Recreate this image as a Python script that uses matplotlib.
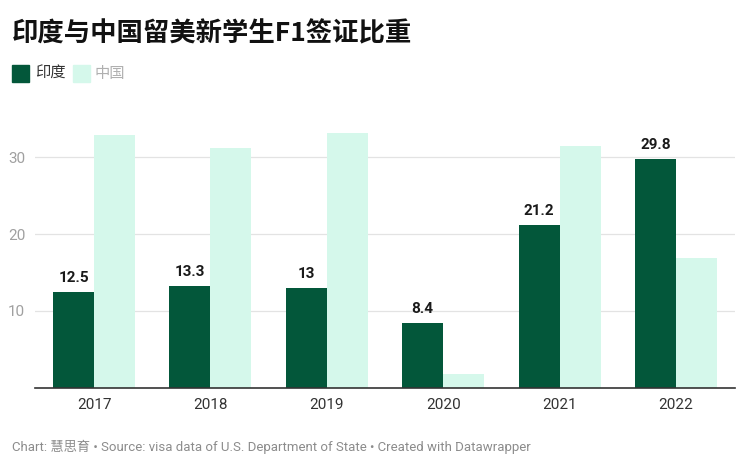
import matplotlib.pyplot as plt
import numpy as np
from matplotlib.patches import Rectangle

plt.rcParams['font.family'] = ['Roboto', 'Noto Sans CJK SC', 'DejaVu Sans']

# data
years = ['2017', '2018', '2019', '2020', '2021', '2022']
india = [12.5, 13.3, 13, 8.4, 21.2, 29.8]
china = [32.9, 31.2, 33.1, 1.8, 31.4, 16.9]
yticks = [10, 20, 30]

dark = '#03573a'
light = '#d5f8eb'

fig = plt.figure(figsize=(7.46, 4.67), dpi=100)
W, H = 746, 467
ax = fig.add_axes([35 / W, (H - 388) / H, 700 / W, 258 / H])

x = np.arange(len(years))
w = 0.352
ax.bar(x - w / 2, india, w, color=dark, zorder=3)
ax.bar(x + w / 2, china, w, color=light, zorder=2)

for xi, v in zip(x, india):
    ax.annotate(f'{v:g}', (xi - w / 2, v), xytext=(0, 5), textcoords='offset points',
                ha='center', va='bottom', fontsize=11, fontweight='bold', color='#1a1a1a')

ax.set_xlim(-0.507, 5.507)
ax.set_ylim(0, 258 / 7.7)
ax.set_yticks(yticks)
ax.set_yticklabels([str(t) for t in yticks])
ax.grid(axis='y', color='#e3e3e3', linewidth=0.9, zorder=0)
ax.set_xticks(x)
ax.set_xticklabels(years)
ax.tick_params(axis='x', length=0, pad=7, labelsize=11, labelcolor='#333333')
ax.tick_params(axis='y', length=0, pad=7, labelsize=11, labelcolor='#a0a0a0')
for s in ['top', 'right', 'left']:
    ax.spines[s].set_visible(False)
ax.spines['bottom'].set_color('#333333')
ax.spines['bottom'].set_linewidth(1.2)
ax.spines['bottom'].set_zorder(4)

# title
fig.text(12 / W, 1 - 34 / H, '印度与中国留美新学生F1签证比重', fontsize=19, fontweight='bold',
         family=['Noto Sans CJK SC'], va='center', ha='left', color='#111111')

# legend
fig.patches.append(Rectangle((12 / W, 1 - 82 / H), 17 / W, 17 / H, transform=fig.transFigure,
                             color=dark))
fig.text(35 / W, 1 - 73.5 / H, '印度', fontsize=11, family=['Noto Sans CJK SC'],
         va='center', ha='left', color='#333333')
fig.patches.append(Rectangle((73 / W, 1 - 82 / H), 17 / W, 17 / H, transform=fig.transFigure,
                             color=light))
fig.text(95 / W, 1 - 73.5 / H, '中国', fontsize=11, family=['Noto Sans CJK SC'],
         va='center', ha='left', color='#b0b0b0')

# footer
fig.text(12 / W, 1 - 447 / H,
         'Chart: 慧思育 • Source: visa data of U.S. Department of State • Created with Datawrapper',
         fontsize=9.5, color='#8c8c8c', va='center', ha='left')

fig.savefig('out.png', dpi=100)
